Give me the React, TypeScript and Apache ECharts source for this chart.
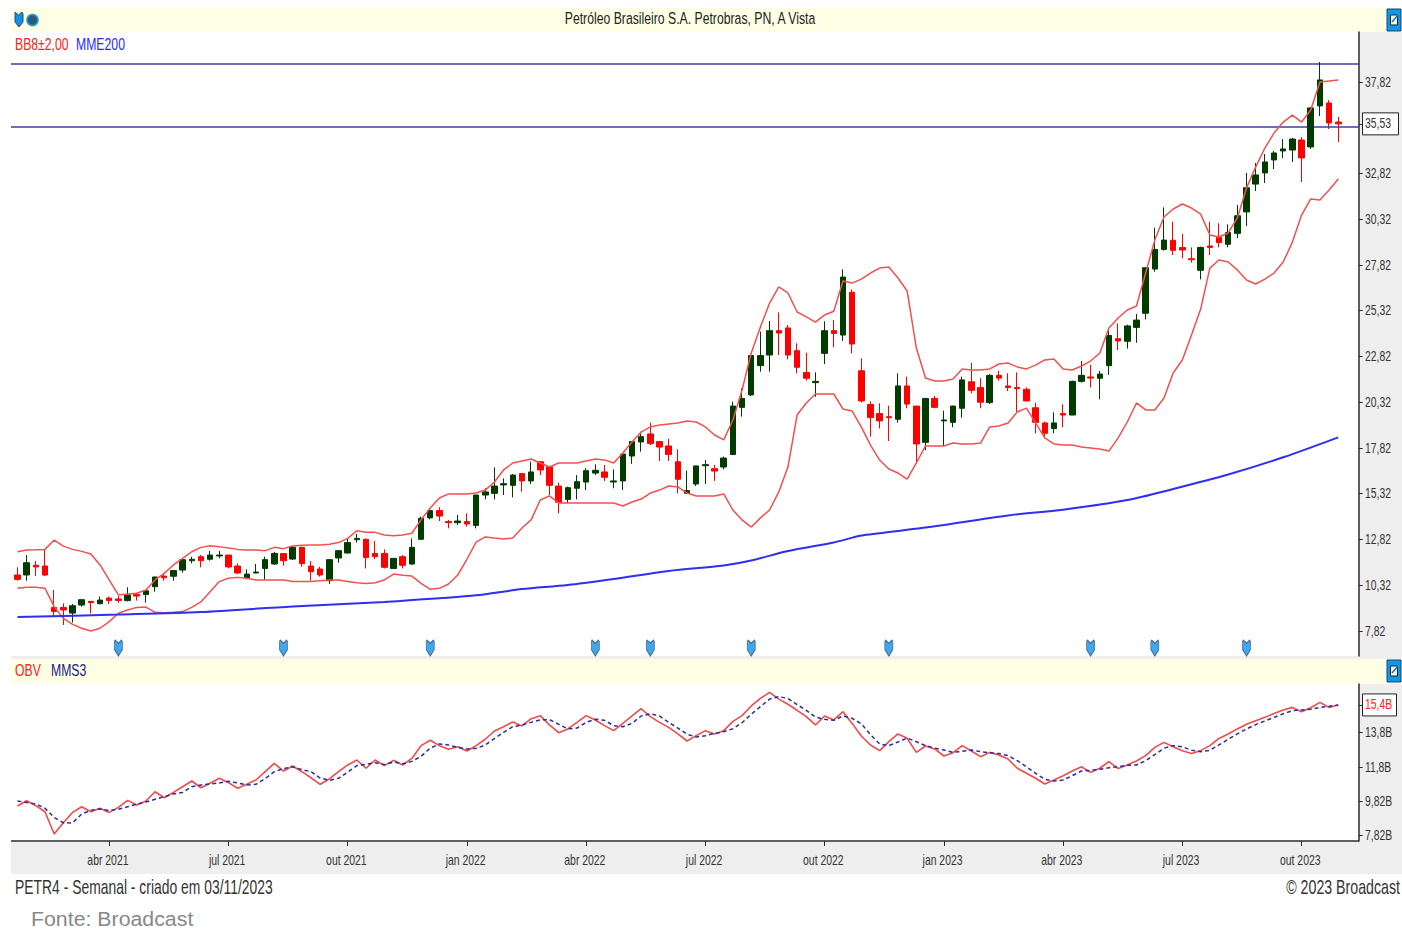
import React, { useEffect, useRef } from "react";
import * as echarts from "echarts";

// [open, close, low, high]
const candles: number[][] = [
  [10.88,10.64,10.57,11.30],[10.88,11.55,10.57,11.97],[11.41,11.32,10.82,11.64],[11.37,10.88,10.82,12.25],[9.11,8.88,8.57,10.06],
  [9.11,8.97,8.15,9.33],[8.80,9.20,8.28,9.30],[9.24,9.53,9.15,9.55],[9.44,9.37,8.78,9.44],[9.31,9.51,9.28,9.70],
  [9.62,9.48,9.30,9.70],[9.57,9.49,9.37,9.73],[9.48,9.79,9.44,10.21],[9.82,9.73,9.48,9.91],[9.81,10.02,9.37,10.06],
  [10.24,10.77,9.97,10.79],[10.82,10.73,10.57,10.97],[10.81,11.12,10.57,11.15],[11.15,11.72,11.01,11.75],[11.66,11.74,11.52,11.88],
  [11.88,11.66,11.30,11.97],[11.74,11.97,11.66,12.19],[11.92,11.97,11.79,12.19],[11.97,11.32,11.24,11.97],[11.37,10.99,10.93,11.52],
  [10.72,10.93,10.64,11.19],[10.99,11.04,10.97,11.48],[11.24,11.72,10.61,11.88],[11.48,12.06,11.43,12.14],[12.05,11.66,11.39,12.06],
  [11.75,12.39,11.70,12.43],[12.39,11.50,11.33,12.43],[11.37,11.06,10.57,11.64],[11.21,10.88,10.79,11.33],[10.57,11.72,10.39,11.74],
  [11.81,12.21,11.55,12.21],[12.08,12.65,12.06,12.88],[12.81,12.88,12.65,13.12],[12.83,11.83,11.24,12.88],[12.06,11.88,11.75,12.74],
  [12.06,11.30,11.24,12.28],[11.24,11.79,11.23,11.81],[11.88,11.41,11.24,11.97],[11.48,12.39,11.43,12.88],[12.83,13.98,12.79,14.07],
  [14.00,14.40,13.92,14.52],[14.40,14.10,13.83,14.58],[13.80,13.74,13.43,13.89],[13.74,13.83,13.61,14.16],[13.80,13.67,13.52,14.25],
  [13.59,15.25,13.43,15.25],[15.25,15.42,15.01,15.62],[15.34,15.74,15.01,16.76],[15.80,15.87,15.25,16.16],[15.78,16.34,15.12,16.40],
  [16.42,16.02,15.43,16.44],[16.02,16.51,15.85,17.07],[17.07,16.62,16.34,17.11],[16.80,15.78,15.25,16.84],[15.74,14.85,14.25,15.93],
  [15.01,15.65,14.80,15.71],[15.62,15.98,15.01,16.34],[15.96,16.58,15.52,16.71],[16.45,16.60,16.34,16.93],[16.51,16.22,16.02,16.89],
  [15.96,16.02,15.62,16.65],[16.02,17.49,15.52,17.53],[17.38,18.17,16.95,18.20],[18.15,18.44,17.62,18.71],[18.59,18.06,17.98,19.20],
  [18.17,17.87,17.11,18.20],[17.93,17.46,17.11,18.33],[17.07,16.11,15.34,17.75],[15.34,15.49,15.34,16.58],[15.85,16.84,15.74,16.85],
  [16.85,16.91,15.85,17.16],[16.69,16.56,16.02,16.89],[16.78,17.27,16.65,17.35],[17.46,20.11,17.44,20.35],[20.04,20.53,19.53,21.08],
  [20.72,22.87,20.66,22.90],[22.32,22.87,21.99,24.18],[22.90,24.23,21.99,24.76],[24.23,24.10,22.90,25.23],[24.38,22.90,22.66,24.54],
  [23.14,22.23,21.90,23.54],[21.95,21.63,21.50,23.03],[21.39,21.46,20.62,21.95],[22.99,24.23,22.41,24.74],[24.23,24.08,23.32,24.81],
  [23.99,27.16,23.67,27.58],[26.33,23.50,22.99,26.49],[22.04,20.39,20.30,22.72],[20.20,19.48,18.44,20.37],[19.70,19.30,18.89,20.26],
  [19.53,19.48,18.20,20.13],[19.39,21.21,19.20,21.90],[21.21,20.22,19.99,21.72],[20.11,18.04,16.98,20.11],[18.13,20.53,17.71,20.53],
  [20.53,20.04,19.99,20.66],[19.30,19.35,17.93,19.86],[19.22,20.11,18.95,20.13],[19.99,21.54,19.48,21.72],[21.44,20.97,20.81,22.48],
  [21.12,20.32,19.99,21.63],[20.30,21.79,20.22,21.86],[21.79,21.64,21.50,22.03],[21.21,21.13,20.93,21.90],[21.13,21.06,19.80,21.95],
  [21.03,20.39,20.37,21.13],[20.02,19.22,18.62,20.30],[19.19,18.62,18.35,19.26],[18.88,19.19,18.62,19.77],[19.70,19.62,18.95,20.21],
  [19.62,21.46,19.62,21.50],[21.46,21.79,21.39,22.57],[21.70,21.64,21.13,22.37],[21.63,21.86,20.48,22.03],[22.32,23.97,21.81,24.39],
  [23.79,23.67,23.17,24.63],[23.65,24.49,23.25,24.56],[24.41,24.81,23.57,25.14],[25.18,27.67,24.85,27.69],[27.60,28.67,27.45,29.86],
  [28.67,29.18,28.60,30.97],[29.17,28.62,28.36,30.19],[28.77,28.64,28.18,29.51],[28.16,28.11,27.95,28.78],[27.53,28.78,27.03,28.82],
  [28.86,28.78,28.36,30.19],[29.33,29.04,28.78,30.10],[28.95,29.59,28.78,30.04],[29.55,30.51,29.28,31.10],[30.72,32.04,29.95,32.85],
  [32.24,32.74,31.86,33.39],[32.85,33.45,32.30,33.88],[33.56,33.94,33.06,34.05],[34.05,34.16,33.66,34.70],[34.10,34.70,33.45,34.76],
  [34.65,33.67,32.35,34.81],[34.27,36.40,34.16,36.45],[36.51,37.93,35.96,38.91],[36.67,35.58,35.25,36.83],[35.63,35.53,34.54,35.91],
];

const upperBand = [
  12.15,12.25,12.26,12.28,12.79,12.46,12.28,12.17,12.03,11.43,
  10.61,9.79,9.84,9.88,10.06,10.61,10.97,11.43,11.79,12.15,
  12.39,12.48,12.43,12.35,12.28,12.25,12.25,12.21,12.39,12.32,
  12.46,12.50,12.52,12.52,12.56,12.65,12.88,13.30,13.21,13.21,
  13.07,13.03,13.07,13.16,13.89,14.54,15.09,15.31,15.31,15.31,
  15.36,15.52,15.96,16.62,17.00,17.11,17.22,17.00,16.78,17.00,
  17.00,17.00,17.11,17.22,17.17,17.00,17.55,18.15,18.69,18.97,
  19.08,19.13,19.19,19.30,19.24,18.97,18.53,18.26,19.35,20.99,
  23.01,24.43,25.74,26.62,26.29,25.25,24.98,24.70,25.09,25.29,
  26.94,26.83,27.05,27.38,27.65,27.71,27.11,26.40,23.28,21.64,
  21.48,21.48,21.59,22.14,22.08,22.08,22.14,22.41,22.46,22.25,
  22.14,22.35,22.63,22.68,22.14,22.08,22.30,22.57,23.01,24.38,
  24.92,25.36,25.58,27.38,29.18,30.44,30.88,31.15,30.93,30.60,
  29.46,29.35,29.57,30.39,32.03,33.17,34.21,35.03,35.63,36.01,
  35.63,36.29,37.82,37.87,37.93,
];

const lowerBand = [
  10.15,10.21,10.21,10.15,9.15,8.51,8.18,7.97,7.82,7.97,
  8.33,8.79,8.97,9.11,9.13,8.84,8.82,8.84,8.88,9.11,
  9.41,9.97,10.52,10.70,10.75,10.70,10.61,10.61,10.61,10.61,
  10.52,10.53,10.53,10.57,10.61,10.61,10.53,10.46,10.42,10.46,
  10.61,10.93,10.86,10.82,10.42,10.10,10.15,10.39,10.88,11.74,
  12.68,12.96,12.90,12.85,12.90,13.45,13.89,14.98,15.20,14.81,
  14.81,14.81,14.81,14.81,14.81,14.81,14.65,14.87,15.03,15.36,
  15.52,15.74,15.69,15.36,15.20,15.20,15.20,15.31,14.43,13.89,
  13.50,14.00,14.43,15.42,16.78,19.62,20.28,20.77,20.77,20.77,
  19.95,19.84,18.97,17.98,17.16,16.67,16.45,16.12,17.00,17.93,
  17.93,17.93,18.09,18.04,18.04,18.09,18.97,19.02,19.19,19.79,
  20.00,19.19,18.37,18.04,17.98,17.98,17.87,17.82,17.76,17.65,
  18.37,19.24,20.28,19.90,19.90,20.55,21.92,22.63,24.00,25.41,
  27.65,28.09,27.98,27.55,27.00,26.78,27.05,27.38,27.98,29.07,
  30.55,31.43,31.37,31.92,32.52,
];

// [week index, value]:
const emaReadings: number[][] = [
  [0,8.58],[11,8.72],[20,8.86],[30,9.16],[40,9.40],[46,9.61],[50,9.77],[55,10.11],[60,10.33],[65,10.66],
  [71,11.10],[77,11.40],[80,11.67],[84,12.19],[89,12.66],[92,13.04],[94,13.16],[100,13.54],[108,14.13],
  [114,14.45],[121,14.98],[126,15.58],[132,16.37],[138,17.31],[144,18.40],
];

const obv = [
  9.54,9.85,9.56,9.21,7.92,8.57,9.17,9.50,9.21,9.41,
  9.17,9.46,9.87,9.60,9.83,10.37,10.02,10.33,10.66,10.99,
  10.60,10.86,11.15,10.90,10.57,10.80,11.05,11.53,12.01,11.57,
  11.86,11.53,11.18,10.80,11.11,11.53,11.92,12.21,11.73,12.21,
  11.88,12.19,11.92,12.30,13.04,13.35,13.04,12.83,12.98,12.73,
  13.04,13.41,13.89,14.14,14.41,14.18,14.60,14.78,14.24,13.79,
  14.01,14.39,14.78,14.53,14.20,13.91,14.33,14.76,15.18,14.72,
  14.39,14.10,13.72,13.31,13.62,13.91,13.72,13.91,14.45,14.78,
  15.34,15.78,16.13,15.74,15.44,15.09,14.72,14.24,14.76,14.53,
  15.01,14.33,13.60,13.08,12.75,13.27,13.72,13.47,12.65,13.02,
  12.85,12.44,12.63,13.04,12.73,12.40,12.65,12.50,12.27,11.73,
  11.44,11.15,10.82,11.05,11.30,11.57,11.82,11.49,11.73,12.11,
  11.71,11.92,12.15,12.46,12.94,13.23,12.98,12.75,12.58,12.75,
  13.04,13.46,13.72,14.01,14.28,14.49,14.68,14.91,15.11,15.26,
  15.01,15.24,15.55,15.26,15.40,
];

const mms3 = [
  9.83,9.75,9.66,9.41,8.88,8.57,8.56,9.08,9.29,9.37,
  9.27,9.35,9.50,9.64,9.77,9.93,10.08,10.24,10.33,10.66,
  10.76,10.82,10.88,10.97,10.88,10.76,10.80,11.13,11.53,11.71,
  11.82,11.65,11.53,11.16,11.03,11.15,11.51,11.88,11.96,12.05,
  11.94,12.09,11.99,12.13,12.42,12.90,13.14,13.08,12.94,12.85,
  12.88,13.08,13.45,13.81,14.14,14.24,14.39,14.53,14.55,14.28,
  14.01,14.06,14.39,14.57,14.51,14.20,14.14,14.33,14.76,14.89,
  14.76,14.39,14.06,13.70,13.54,13.62,13.75,13.85,14.02,14.37,
  14.86,15.30,15.74,15.88,15.78,15.42,15.09,14.70,14.57,14.51,
  14.76,14.62,14.31,13.68,13.14,13.04,13.25,13.48,13.27,13.04,
  12.90,12.79,12.65,12.71,12.79,12.69,12.63,12.58,12.46,12.17,
  11.82,11.44,11.09,10.99,11.05,11.30,11.57,11.61,11.67,11.76,
  11.82,11.90,11.92,12.17,12.52,12.89,13.04,12.98,12.77,12.69,
  12.77,13.08,13.41,13.72,14.01,14.26,14.47,14.68,14.89,15.07,
  15.11,15.15,15.26,15.32,15.40,
];

const horizontalLevels = [38.8, 35.36];
const signalWeeks = [11, 29, 45, 63, 69, 80, 95, 117, 124, 134];
const signalLevel = 6.89;
const tickWeeks = [10, 23, 36, 49, 62, 75, 88, 101, 114, 127, 140];
const tickLabels = ["abr 2021", "jul 2021", "out 2021", "jan 2022", "abr 2022", "jul 2022", "out 2022", "jan 2023", "abr 2023", "jul 2023", "out 2023"];
const priceTicks = [7.82, 10.32, 12.82, 15.32, 17.82, 20.32, 22.82, 25.32, 27.82, 30.32, 32.82, 35.53, 37.82];
const lastPrice = 35.53;
const obvTicks = [7.82, 9.82, 11.8, 13.8, 15.4];
const lastObv = 15.4;
const title = "Petróleo Brasileiro S.A. Petrobras, PN, A Vista";

const SLOTS = 147;
const BAND = 9.172;
const LEFT = 12.9;
const SANS = '"Liberation Sans", Arial, sans-serif';
const NARROW_SCALE = 0.72;
const SHIELD = "path://M1,0 L5,4 L9,0 L10,2 L10,12 L5,20 L0,12 L0,2 Z";

const categories = Array.from({ length: SLOTS }, (_, i) => `s${i}`);
const isTick = (i: number) => tickWeeks.indexOf(i) >= 0;
const comma = (v: number, digits = 2) => v.toFixed(digits).replace(".", ",");

const txt = (x: number, y: number, text: string, fill: string, fontSize: number, extra: any = {}, scaleX = NARROW_SCALE) => ({
  type: "text",
  x,
  y,
  scaleX,
  z: 100,
  silent: true,
  style: { text, fill, fontSize, fontFamily: SANS, textVerticalAlign: "middle", ...extra },
});

const rect = (x: number, y: number, width: number, height: number, fill: string, z = -10, stroke?: string) => ({
  type: "rect",
  z,
  silent: true,
  shape: { x, y, width, height },
  style: { fill, stroke, lineWidth: stroke ? 1 : 0 },
});

const exportIcon = (top: number) => [
  rect(1387, top, 14, 22, "#0a9ae8", 90, "#204060"),
  rect(1390.5, top + 6, 7, 10, "#f4f4e8", 91, "#222222"),
  {
    type: "line",
    z: 92,
    silent: true,
    shape: { x1: 1392, y1: top + 13, x2: 1398, y2: top + 6 },
    style: { stroke: "#0a7ac0", lineWidth: 1.5 },
  },
];

export default function App() {
  const ref = useRef<HTMLDivElement>(null);

  useEffect(() => {
    const chart = echarts.init(ref.current!, undefined, { renderer: "svg" });
    const axisInk = "#2a2a2a";
    const labelInk = "#333333";
    chart.setOption({
      animation: false,
      backgroundColor: "#ffffff",
      grid: [
        { left: LEFT, top: 32, width: BAND * SLOTS, height: 624, outerBoundsMode: "none" },
        { left: LEFT, top: 684, width: BAND * SLOTS, height: 157, outerBoundsMode: "none" },
      ],
      xAxis: [
        {
          type: "category",
          gridIndex: 0,
          data: categories,
          boundaryGap: true,
          axisLine: { show: false },
          axisTick: { show: false },
          axisLabel: { show: false },
          splitLine: { show: false },
        },
        {
          type: "category",
          gridIndex: 1,
          data: categories,
          boundaryGap: true,
          axisLine: { show: false },
          axisTick: { show: true, alignWithLabel: true, interval: (i: number) => isTick(i), length: 5, lineStyle: { color: axisInk, width: 1 } },
          axisLabel: { show: false },
          splitLine: { show: false },
        },
      ],
      yAxis: [
        {
          type: "value",
          gridIndex: 0,
          position: "right",
          offset: -2.5,
          min: 6.454,
          max: 40.55,
          axisLine: { show: true, lineStyle: { color: axisInk, width: 1.5 } },
          axisTick: { show: true, length: 4, customValues: priceTicks, lineStyle: { color: axisInk } },
          splitLine: { show: false },
          axisLabel: { show: false },
        },
        {
          type: "value",
          gridIndex: 1,
          position: "right",
          offset: -2.5,
          min: 7.513,
          max: 16.614,
          axisLine: { show: true, lineStyle: { color: axisInk, width: 1.5 } },
          axisTick: { show: true, length: 4, customValues: obvTicks, lineStyle: { color: axisInk } },
          splitLine: { show: false },
          axisLabel: { show: false },
        },
      ],
      series: [
        {
          type: "candlestick",
          xAxisIndex: 0,
          yAxisIndex: 0,
          barWidth: 6,
          data: candles,
          itemStyle: {
            color: "#003c00",
            borderColor: "#003c00",
            color0: "#ff0000",
            borderColor0: "#ff0000",
            borderWidth: 1,
          },
          z: 2,
        },
        {
          type: "line",
          name: "BB8 sup",
          xAxisIndex: 0,
          yAxisIndex: 0,
          data: upperBand,
          symbol: "none",
          lineStyle: { color: "#f25050", width: 1.5 },
          z: 3,
        },
        {
          type: "line",
          name: "BB8 inf",
          xAxisIndex: 0,
          yAxisIndex: 0,
          data: lowerBand,
          symbol: "none",
          lineStyle: { color: "#f25050", width: 1.5 },
          z: 3,
        },
        {
          type: "line",
          name: "MME200",
          xAxisIndex: 0,
          yAxisIndex: 0,
          data: emaReadings,
          symbol: "none",
          smooth: 0.3,
          lineStyle: { color: "#2e2ef5", width: 2 },
          z: 3,
        },
        {
          type: "scatter",
          xAxisIndex: 0,
          yAxisIndex: 0,
          symbol: SHIELD,
          symbolSize: [8, 16],
          data: signalWeeks.map((w) => [w, signalLevel]),
          itemStyle: { color: "#1090e8", borderColor: "#34536e", borderWidth: 1 },
          z: 4,
        },
        {
          type: "line",
          name: "OBV",
          xAxisIndex: 1,
          yAxisIndex: 1,
          data: obv,
          symbol: "none",
          lineStyle: { color: "#f24a4a", width: 1.6 },
          z: 3,
        },
        {
          type: "line",
          name: "MMS3",
          xAxisIndex: 1,
          yAxisIndex: 1,
          data: mms3,
          symbol: "none",
          lineStyle: { color: "#2c2ca0", width: 1.5, type: [4, 3] },
          z: 4,
        },
      ],
    });

    // Tall condensed tick labels: real text, placed through the axes' own scales.
    const xLabels = tickWeeks.map((w, k) =>
      txt((chart.convertToPixel({ xAxisIndex: 1 }, w) as number) - 1.3, 860, tickLabels[k], labelInk, 14, { textAlign: "center" }, 0.745)
    );
    const yPriceLabels = priceTicks.map((v) =>
      txt(1365, chart.convertToPixel({ yAxisIndex: 0 }, v) as number, comma(v), labelInk, 14, {}, 0.74)
    );
    const yObvLabels = obvTicks.map((v) =>
      txt(
        1365,
        chart.convertToPixel({ yAxisIndex: 1 }, v) as number,
        comma(v, v < 10 ? 2 : 1) + "B",
        v === lastObv ? "#ff2020" : labelInk,
        14,
        {},
        0.74
      )
    );
    const levelLines = horizontalLevels.map((v) => {
      const y = chart.convertToPixel({ yAxisIndex: 0 }, v) as number;
      return {
        type: "line",
        z: 1,
        silent: true,
        shape: { x1: 11, y1: y, x2: 1359, y2: y },
        style: { stroke: "#3c3ca0", lineWidth: 1.5 },
      };
    });
    const priceY = chart.convertToPixel({ yAxisIndex: 0 }, lastPrice) as number;
    const obvY = chart.convertToPixel({ yAxisIndex: 1 }, lastObv) as number;

    chart.setOption({
      graphic: [
        rect(1359, 32, 43, 842, "#eeeeee"),
        rect(11, 842, 1391, 32, "#eeeeee"),
        rect(11, 8, 1374, 24, "#ffffe6"),
        rect(11, 656, 1348, 3, "#eeeeee"),
        rect(11, 659, 1374, 25, "#ffffe6"),
        rect(1385, 659, 17, 25, "#ffffff", -9),
        rect(1362.5, priceY - 11, 36, 22, "#ffffff", 80, "#222222"),
        rect(1362.5, obvY - 11, 34, 22, "#ffffff", 80, "#222222"),
        ...levelLines,
        {
          type: "line",
          z: 50,
          silent: true,
          shape: { x1: 11, y1: 841, x2: 1359, y2: 841 },
          style: { stroke: axisInk, lineWidth: 1.5 },
        },
        {
          type: "polygon",
          z: 90,
          silent: true,
          shape: { points: [[15, 12], [18.5, 15], [22, 12], [23, 14], [23, 22], [19, 27], [15, 22]] },
          style: { fill: "#1090e8", stroke: "#2c4a66", lineWidth: 1 },
        },
        {
          type: "circle",
          z: 90,
          silent: true,
          shape: { cx: 32.5, cy: 20, r: 5.5 },
          style: { fill: "#2c5a78", stroke: "#18a0c8", lineWidth: 1.5 },
        },
        ...exportIcon(9),
        ...exportIcon(660),
        txt(690, 18, title, "#222222", 17, { textAlign: "center" }),
        txt(15, 44, "BB8±2,00", "#ff2020", 17),
        txt(76, 44, "MME200", "#2a2aff", 17),
        txt(15, 670, "OBV", "#ff2020", 17),
        txt(51, 670, "MMS3", "#20208c", 17),
        txt(15, 887, "PETR4 - Semanal - criado em 03/11/2023", "#333333", 20, {}, 0.695),
        txt(1400, 887, "© 2023 Broadcast", "#333333", 20, { textAlign: "right" }, 0.71),
        txt(31, 918.5, "Fonte: Broadcast", "#888888", 20.5, {}, 1.04),
        ...xLabels,
        ...yPriceLabels,
        ...yObvLabels,
      ],
    });
    return () => chart.dispose();
  }, []);

  return <div ref={ref} style={{ position: "absolute", left: 0, top: 0, width: 1402, height: 931 }} />;
}
